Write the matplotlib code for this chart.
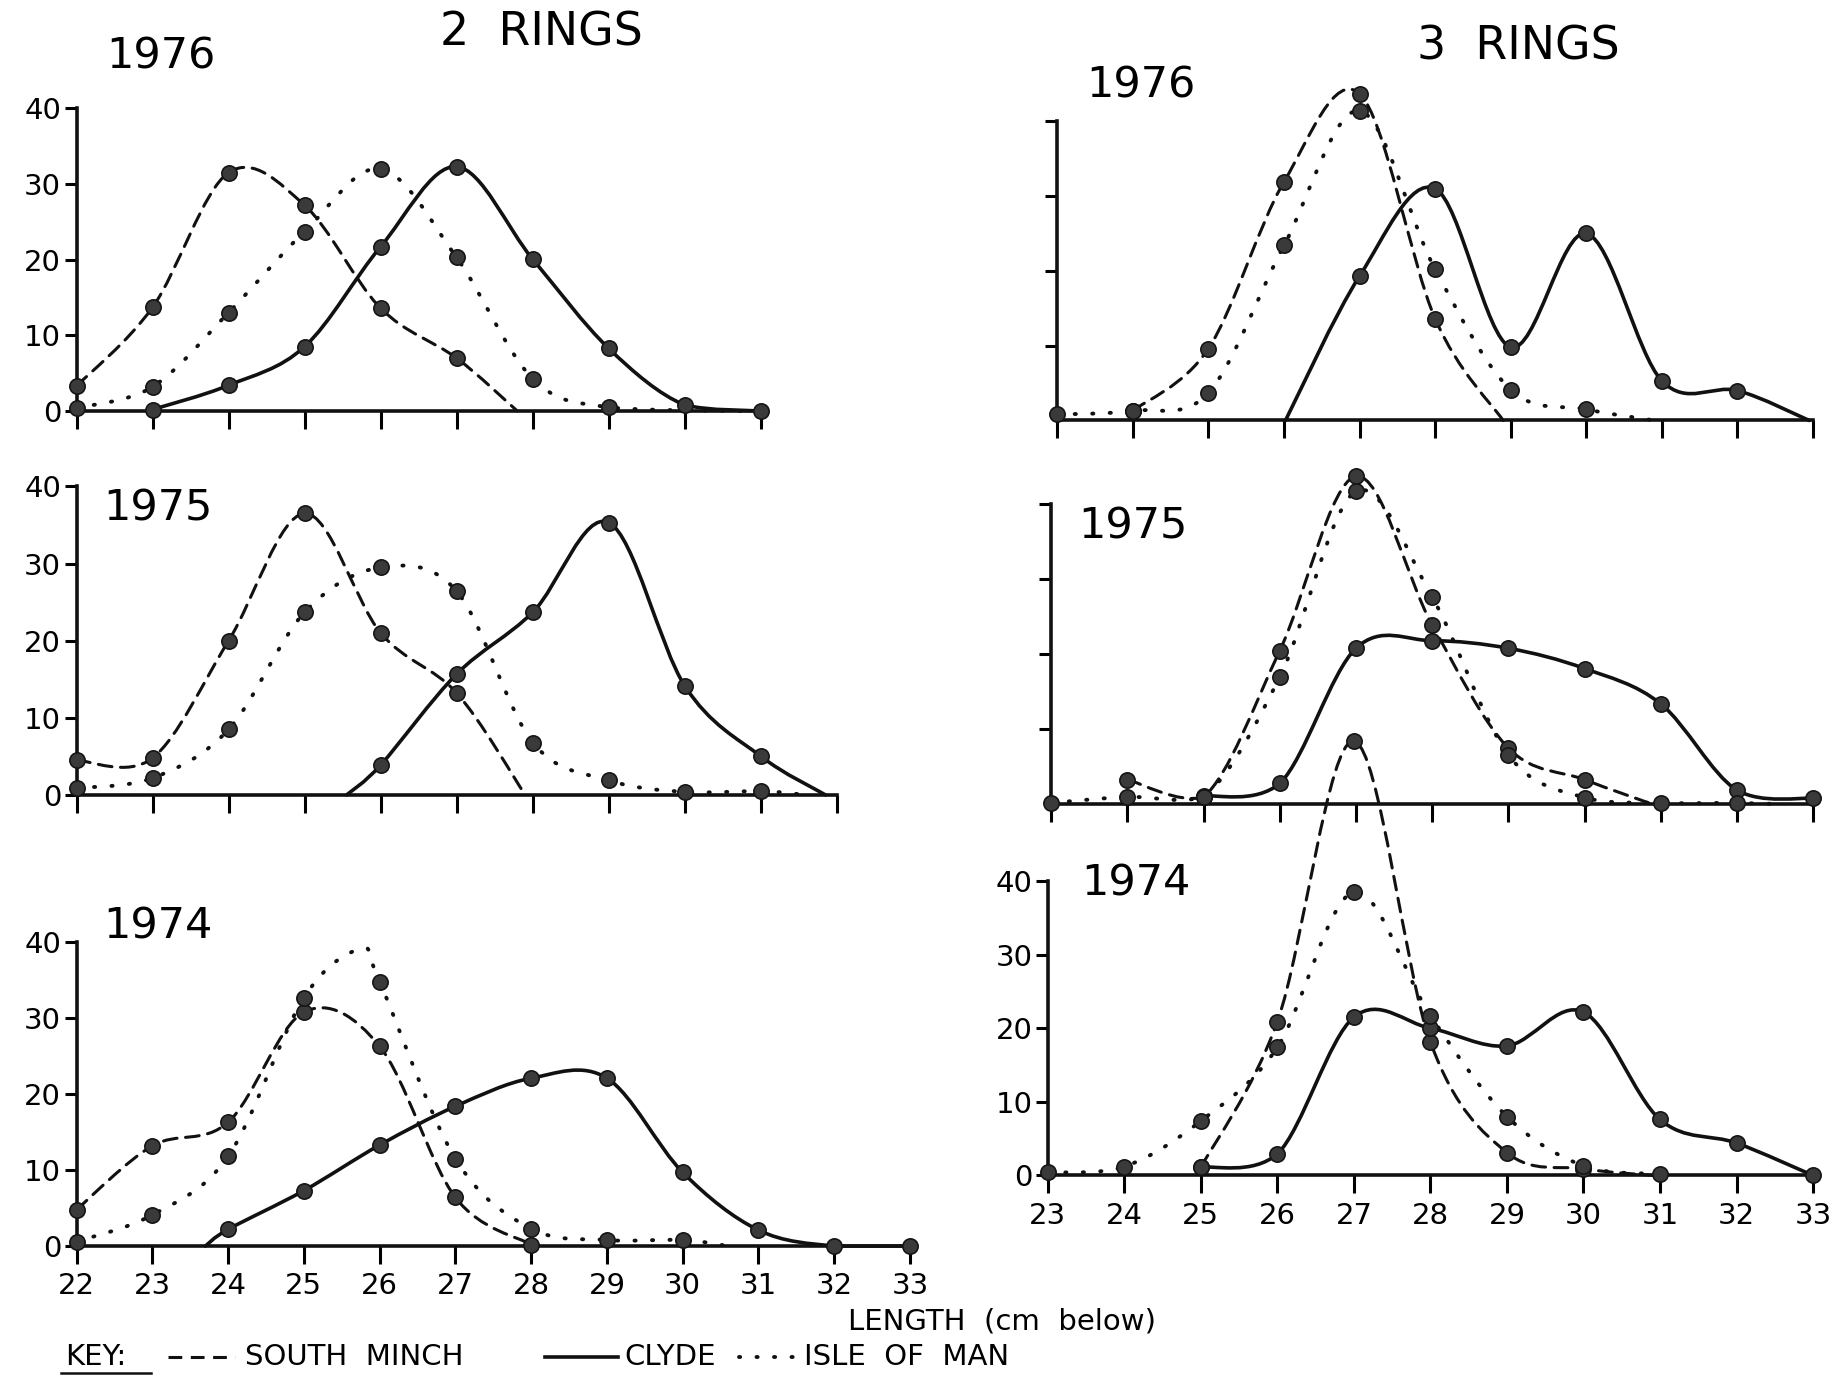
import numpy as np
import matplotlib.pyplot as plt
from matplotlib.path import Path
from matplotlib.patches import PathPatch
from matplotlib.lines import Line2D

# ---- data (length in cm, percentage) ----
# 2 rings, 1976
r2_76_sm_x = [22, 23, 24, 25, 26, 27, 27.8]
r2_76_sm_y = [3.3, 13.7, 31.5, 27.2, 13.6, 7.0, 0]
r2_76_cl_x = [23, 24, 25, 26, 27, 28, 29, 30, 31]
r2_76_cl_y = [0.2, 3.4, 8.5, 21.7, 32.3, 20.1, 8.3, 0.8, 0]
r2_76_im_x = [22, 23, 24, 25, 26, 27, 28, 29, 30.8]
r2_76_im_y = [0.4, 3.2, 13.0, 23.7, 32.0, 20.3, 4.3, 0.5, 0]

# 2 rings, 1975
r2_75_sm_x = [22, 23, 24, 25, 26, 27, 27.9]
r2_75_sm_y = [4.5, 4.8, 20.0, 36.5, 21.0, 13.2, 0]
r2_75_cl_x = [25.55, 26, 27, 28, 29, 30, 31, 31.85]
r2_75_cl_y = [0, 3.9, 15.7, 23.7, 35.3, 14.1, 5.0, 0]
r2_75_im_x = [22, 23, 24, 25, 26, 27, 28, 29, 30, 31, 31.6]
r2_75_im_y = [0.9, 2.2, 8.5, 23.7, 29.5, 26.4, 6.8, 1.9, 0.4, 0.5, 0]

# 2 rings, 1974
r2_74_sm_x = [22, 23, 24, 25, 26, 27, 28]
r2_74_sm_y = [4.8, 13.2, 16.3, 30.8, 26.3, 6.4, 0.2]
r2_74_cl_x = [23.7, 24, 25, 26, 27, 28, 29, 30, 31, 32, 33]
r2_74_cl_y = [0, 2.2, 7.3, 13.3, 18.4, 22.1, 22.1, 9.7, 2.1, 0, 0]
r2_74_im_x = [22, 23, 24, 25, 25.75, 26, 27, 28, 29, 30, 30.6]
r2_74_im_y = [0.6, 4.1, 11.8, 32.7, 39.1, 34.8, 11.5, 2.3, 0.8, 0.8, 0]

# 3 rings, 1976
r3_76_sm_x = [24, 25, 26, 27, 28, 28.9]
r3_76_sm_y = [1.3, 9.6, 31.9, 43.7, 13.6, 0]
r3_76_cl_x = [26.02, 27, 28, 29, 30, 31, 32, 32.95]
r3_76_cl_y = [0, 19.3, 31.0, 9.8, 25.0, 5.3, 4.0, 0]
r3_76_im_x = [23, 24, 25, 26, 27, 28, 29, 30, 30.9]
r3_76_im_y = [0.8, 1.3, 3.7, 23.4, 41.4, 20.2, 4.1, 1.5, 0]

# 3 rings, 1975
r3_75_sm_x = [24, 25, 26, 27, 28, 29, 30, 30.9]
r3_75_sm_y = [3.3, 1.0, 20.5, 43.7, 23.9, 7.5, 3.3, 0]
r3_75_cl_x = [25, 26, 27, 28, 29, 30, 31, 32, 33]
r3_75_cl_y = [1.1, 2.8, 20.8, 21.8, 20.8, 18.1, 13.4, 1.9, 0.8]
r3_75_im_x = [23, 24, 25, 26, 27, 28, 29, 30, 31, 32, 32.6]
r3_75_im_y = [0.2, 1.0, 1.0, 17.0, 41.7, 27.6, 6.6, 0.9, 0.2, 0.2, 0]

# 3 rings, 1974
r3_74_sm_x = [25, 26, 27, 28, 29, 30, 30.9]
r3_74_sm_y = [1.1, 20.9, 59.0, 18.1, 3.1, 0.9, 0]
r3_74_cl_x = [25, 26, 27, 28, 29, 30, 31, 32, 33]
r3_74_cl_y = [1.1, 2.9, 21.5, 20.0, 17.6, 22.2, 7.6, 4.4, 0]
r3_74_im_x = [23, 24, 25, 26, 27, 28, 29, 30, 31]
r3_74_im_y = [0.4, 1.2, 7.4, 17.4, 38.5, 21.7, 8.0, 1.3, 0.2]

years = ['1976', '1975', '1974']
y_ticks = [0, 10, 20, 30, 40]

SM = dict(ls=(0, (4.5, 2.8)), lw=2.2)
CL = dict(ls='-', lw=2.6)
IM = dict(ls=(0, (0.3, 4.2)), lw=2.8)

W, H = 1568, 1170  # layout worked out on the reference picture


def box(left, right, base, top):
    return [left / W, 1 - base / H, (right - left) / W, (base - top) / H]


def curve(ax, xs, ys, style):
    # smooth hand-drawn look: catmull-rom through the points as bezier path
    pts = np.column_stack([xs, ys]).astype(float)
    ext = np.vstack([pts[0], pts, pts[-1]])
    verts = [pts[0]]
    codes = [Path.MOVETO]
    for i in range(len(pts) - 1):
        p0, p1, p2, p3 = ext[i], ext[i + 1], ext[i + 2], ext[i + 3]
        c1 = p1 + (p2 - p0) / 6
        c2 = p2 - (p3 - p1) / 6
        c1[1] = max(c1[1], 0)
        c2[1] = max(c2[1], 0)
        verts += [c1, c2, p2]
        codes += [Path.CURVE4] * 3
    patch = PathPatch(Path(verts, codes), fill=False, edgecolor='#111111',
                      capstyle='round', clip_on=False, zorder=2, **style)
    ax.add_patch(patch)
    dx = [x for x in xs if x == int(x)]
    dy = [y for x, y in zip(xs, ys) if x == int(x)]
    ax.plot(dx, dy, 'o', ms=11, mfc='#3a3a3a', mec='#151515', mew=1.2,
            clip_on=False, zorder=3)


fig = plt.figure(figsize=(18.46, 13.78), dpi=100)

panels = [
    (box(65, 646, 349, 92), 22, 31, True, False,
     [(r2_76_sm_x, r2_76_sm_y, SM), (r2_76_cl_x, r2_76_cl_y, CL), (r2_76_im_x, r2_76_im_y, IM)]),
    (box(65, 711, 675, 413), 22, 32, True, False,
     [(r2_75_sm_x, r2_75_sm_y, SM), (r2_75_cl_x, r2_75_cl_y, CL), (r2_75_im_x, r2_75_im_y, IM)]),
    (box(65, 773, 1058, 800), 22, 33, True, True,
     [(r2_74_sm_x, r2_74_sm_y, SM), (r2_74_cl_x, r2_74_cl_y, CL), (r2_74_im_x, r2_74_im_y, IM)]),
    (box(898, 1540, 357, 103), 23, 33, False, False,
     [(r3_76_sm_x, r3_76_sm_y, SM), (r3_76_cl_x, r3_76_cl_y, CL), (r3_76_im_x, r3_76_im_y, IM)]),
    (box(893, 1540, 683, 428), 23, 33, False, False,
     [(r3_75_sm_x, r3_75_sm_y, SM), (r3_75_cl_x, r3_75_cl_y, CL), (r3_75_im_x, r3_75_im_y, IM)]),
    (box(890, 1540, 998, 748), 23, 33, True, True,
     [(r3_74_sm_x, r3_74_sm_y, SM), (r3_74_cl_x, r3_74_cl_y, CL), (r3_74_im_x, r3_74_im_y, IM)]),
]

for rect, x0, x1, ylab, xlab, series in panels:
    ax = fig.add_axes(rect)
    ax.set_facecolor('none')
    ax.set_xlim(x0, x1)
    ax.set_ylim(0, 40)
    for s in ['top', 'right']:
        ax.spines[s].set_visible(False)
    for s in ['left', 'bottom']:
        ax.spines[s].set_linewidth(2.6)
        ax.spines[s].set_color('#111111')
    ax.set_xticks(range(x0, x1 + 1))
    ax.set_yticks(y_ticks if ylab else y_ticks[1:])
    ax.tick_params(axis='x', direction='out', length=13, width=2.2, pad=6,
                   labelsize=21, labelbottom=xlab)
    ax.tick_params(axis='y', direction='out', length=9, width=2.2, pad=2,
                   labelsize=21, labelleft=ylab)
    for xs, ys, st in series:
        curve(ax, xs, ys, st)

# titles and year labels
fig.text(460 / W, 1 - 28 / H, '2  RINGS', ha='center', va='center', fontsize=33)
fig.text(1290 / W, 1 - 40 / H, '3  RINGS', ha='center', va='center', fontsize=33)
for (lx, ly), yr in zip([(90, 48), (88, 432), (88, 787)], years):
    fig.text(lx / W, 1 - ly / H, yr, ha='left', va='center', fontsize=31)
for (lx, ly), yr in zip([(923, 73), (916, 447), (918, 750)], years):
    fig.text(lx / W, 1 - ly / H, yr, ha='left', va='center', fontsize=31)

# axis caption and key
fig.text(720 / W, 1 - 1122 / H, 'LENGTH  (cm  below)', ha='left', va='center', fontsize=21)
ky = 1 - 1152 / H
fig.text(55 / W, ky, 'KEY:', ha='left', va='center', fontsize=21)
fig.add_artist(Line2D([52 / W, 128 / W], [1 - 1166 / H] * 2, color='#111111', lw=1.8))
fig.add_artist(Line2D([143 / W, 200 / W], [ky] * 2, color='#111111', **SM))
fig.text(208 / W, ky, 'SOUTH  MINCH', ha='left', va='center', fontsize=21)
fig.add_artist(Line2D([463 / W, 525 / W], [ky] * 2, color='#111111', **CL))
fig.text(530 / W, ky, 'CLYDE', ha='left', va='center', fontsize=21)
fig.add_artist(Line2D([628 / W, 676 / W], [ky] * 2, color='#111111',
                      solid_capstyle='round', dash_capstyle='round', **IM))
fig.text(683 / W, ky, 'ISLE  OF  MAN', ha='left', va='center', fontsize=21)

fig.savefig('out.png', dpi=100, facecolor='white')
